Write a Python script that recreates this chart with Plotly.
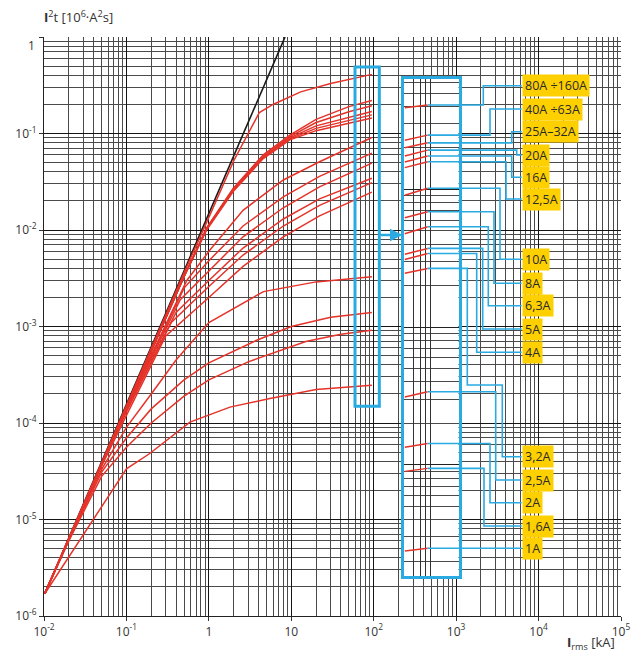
import math
import plotly.graph_objects as go

# ---------------- data (x: Irms in kA, y: I2t in 10^6 A2s) ----------------
prospective_x = [0.0102, 8.4]
prospective_y = [1.7e-6, 1.0]

ratings = ["80A ÷160A", "40A ÷63A", "25A–32A", "20A", "16A", "12,5A", "10A", "8A",
           "6,3A", "5A", "4A", "3,2A", "2,5A", "2A", "1,6A", "1A"]

x_80_160 = [0.0102, 0.02, 0.05, 0.1, 0.5, 1, 2, 3, 4.1, 6, 8, 13, 30, 95]
y_80_160 = [1.7e-6, 6.4e-6, 3.8e-5, 1.5e-4, 3.6e-3, 1.35e-2, 5.2e-2, 0.1, 0.165, 0.2, 0.225, 0.27, 0.33, 0.41]
x_40_63 = [0.0102, 0.02, 0.05, 0.1, 0.5, 0.94, 1.97, 4.57, 9.6, 20, 50, 95]
y_40_63 = [1.7e-6, 6.3e-6, 3.7e-5, 1.45e-4, 3.3e-3, 1.05e-2, 2.7e-2, 6.0e-2, 9.6e-2, 0.14, 0.19, 0.22]
x_25_32 = [0.0102, 0.02, 0.05, 0.1, 0.5, 0.94, 1.97, 4.57, 9.6, 20, 50, 95]
y_25_32 = [1.7e-6, 6.3e-6, 3.7e-5, 1.45e-4, 3.3e-3, 1.04e-2, 2.65e-2, 5.85e-2, 9.3e-2, 0.13, 0.168, 0.194]
x_20 = [0.0102, 0.02, 0.05, 0.1, 0.5, 0.94, 1.97, 4.57, 9.6, 20, 50, 95]
y_20 = [1.7e-6, 6.3e-6, 3.7e-5, 1.45e-4, 3.3e-3, 1.03e-2, 2.6e-2, 5.75e-2, 9.0e-2, 0.12, 0.148, 0.169]
x_16 = [0.0102, 0.02, 0.05, 0.1, 0.5, 0.94, 1.97, 4.57, 9.6, 20, 50, 95]
y_16 = [1.7e-6, 6.3e-6, 3.7e-5, 1.45e-4, 3.3e-3, 1.02e-2, 2.55e-2, 5.6e-2, 8.8e-2, 0.113, 0.138, 0.156]
x_12_5 = [0.0102, 0.02, 0.05, 0.1, 0.5, 0.94, 1.97, 4.57, 9.6, 20, 50, 95]
y_12_5 = [1.7e-6, 6.3e-6, 3.7e-5, 1.45e-4, 3.3e-3, 1.0e-2, 2.5e-2, 5.5e-2, 8.6e-2, 0.107, 0.128, 0.145]
x_10 = [0.0102, 0.02, 0.05, 0.1, 0.54, 1.03, 2.6, 8, 22, 95]
y_10 = [1.7e-6, 6.3e-6, 3.7e-5, 1.45e-4, 3.0e-3, 6.2e-3, 1.6e-2, 3.3e-2, 5.1e-2, 9.08e-2]
x_8 = [0.0102, 0.02, 0.05, 0.1, 0.5, 1, 2.6, 8, 22, 95]
y_8 = [1.7e-6, 6.3e-6, 3.7e-5, 1.42e-4, 2.5e-3, 4.8e-3, 1.1e-2, 2.2e-2, 3.6e-2, 6.26e-2]
x_6_3 = [0.0102, 0.02, 0.05, 0.1, 0.45, 1, 2.6, 8, 22, 95]
y_6_3 = [1.7e-6, 6.3e-6, 3.7e-5, 1.4e-4, 1.9e-3, 3.8e-3, 8.5e-3, 1.7e-2, 2.8e-2, 4.93e-2]
x_5 = [0.0102, 0.02, 0.05, 0.1, 0.4, 1, 2.6, 8, 22, 95]
y_5 = [1.7e-6, 6.3e-6, 3.7e-5, 1.35e-4, 1.4e-3, 3.0e-3, 6.5e-3, 1.3e-2, 2.1e-2, 3.44e-2]
x_4 = [0.0102, 0.02, 0.05, 0.1, 0.35, 1, 2.6, 8, 22, 95]
y_4 = [1.7e-6, 6.3e-6, 3.7e-5, 1.3e-4, 1.1e-3, 2.6e-3, 5.5e-3, 1.1e-2, 1.8e-2, 3.1e-2]
x_3_2 = [0.0102, 0.02, 0.05, 0.1, 0.3, 1, 2.6, 8, 22, 95]
y_3_2 = [1.7e-6, 6.3e-6, 3.6e-5, 1.2e-4, 8e-4, 2e-3, 4.2e-3, 8.5e-3, 1.4e-2, 2.47e-2]
x_2_5 = [0.0102, 0.02, 0.05, 0.1, 0.2, 0.4, 1, 4.6, 20, 95]
y_2_5 = [1.7e-6, 6.2e-6, 3.3e-5, 9e-5, 2e-4, 4.5e-4, 1.1e-3, 2.3e-3, 2.9e-3, 3.27e-3]
x_2 = [0.0102, 0.02, 0.05, 0.1, 0.2, 0.5, 1, 3.8, 10, 30, 95]
y_2 = [1.7e-6, 6.1e-6, 3.1e-5, 7e-5, 1.4e-4, 2.8e-4, 4.2e-4, 7.2e-4, 1e-3, 1.25e-3, 1.4e-3]
x_1_6 = [0.0102, 0.02, 0.05, 0.1, 0.2, 0.5, 1, 3, 15, 40, 95]
y_1_6 = [1.7e-6, 6e-6, 2.8e-5, 5.6e-5, 1.0e-4, 1.9e-4, 2.8e-4, 4.3e-4, 7e-4, 8.3e-4, 9.16e-4]
x_1 = [0.0102, 0.1, 0.19, 0.59, 1.8, 5.5, 20, 95]
y_1 = [1.7e-6, 3.35e-5, 4.8e-5, 1.02e-4, 1.46e-4, 1.79e-4, 2.22e-4, 2.46e-4]

curves_x = [x_80_160, x_40_63, x_25_32, x_20, x_16, x_12_5, x_10, x_8, x_6_3, x_5, x_4, x_3_2, x_2_5, x_2, x_1_6, x_1]
curves_y = [y_80_160, y_40_63, y_25_32, y_20, y_16, y_12_5, y_10, y_8, y_6_3, y_5, y_4, y_3_2, y_2_5, y_2, y_1_6, y_1]

# magnified view of the curve ends (inset)
inset_x = [50, 95]
inset_left = [0.392, 0.228, 0.2005, 0.1747, 0.158, 0.144, 0.0907, 0.0624, 0.0477, 0.0338,
              0.0310, 0.0246, 0.00311, 0.00134, 0.000897, 0.000237]
inset_right = [0.41, 0.248, 0.218, 0.193, 0.175, 0.159, 0.102, 0.0689, 0.0536, 0.0373,
               0.0343, 0.0267, 0.0034, 0.00143, 0.000943, 0.000248]

x_tick_vals = [1e-2, 1e-1, 1, 10, 1e2, 1e3, 1e4, 1e5]
x_tick_text = ["10<sup>-2</sup>", "10<sup>-1</sup>", "1", "10", "10<sup>2</sup>",
               "10<sup>3</sup>", "10<sup>4</sup>", "10<sup>5</sup>"]
y_tick_vals = [1e-6, 1e-5, 1e-4, 1e-3, 1e-2, 1e-1, 1]
y_tick_text = ["10<sup>-6</sup>", "10<sup>-5</sup>", "10<sup>-4</sup>", "10<sup>-3</sup>",
               "10<sup>-2</sup>", "10<sup>-1</sup>", "1"]

# ---------------- styling / layout ----------------
# the page puts the figure 8 px in from the window edge, so work in window pixels
PAGE = 8
W, H = 642 - 2 * PAGE, 664 - 2 * PAGE
PL, PR, PT, PB = 44, 621, 37, 616          # plot area in window pixels
PW, PH = PR - PL, PB - PT
ML, MT = PL - PAGE, PT - PAGE
MR, MB = W - ML - PW, H - MT - PH
RED = "#E5332A"
BLUE = "#29ABE2"
YELLOW = "#FFD000"
TXT = "#333333"
FONT = "Open Sans"


def px(xp):
    return (xp - PL) / PW


def py(yp):
    return (PB - yp) / PH


def minors(lo, hi):
    return [k * 10 ** d for d in range(lo, hi) for k in range(2, 10)]


fig = go.Figure()
fig.add_trace(go.Scatter(x=prospective_x, y=prospective_y, mode="lines",
                         line=dict(color="#1a1a1a", width=1.6), hoverinfo="skip", showlegend=False))
for xs, ys in zip(curves_x, curves_y):
    fig.add_trace(go.Scatter(x=xs, y=ys, mode="lines", line=dict(color=RED, width=1.5),
                             hoverinfo="skip", showlegend=False))
for yl, yr in zip(inset_left, inset_right):
    fig.add_trace(go.Scatter(x=inset_x, y=[yl, yr], mode="lines", line=dict(color=RED, width=1.5),
                             xaxis="x2", yaxis="y2", hoverinfo="skip", showlegend=False))

# inset geometry (window pixels)
IN_L, IN_R, IN_T, IN_B = 403.5, 458.5, 79, 576
IN_YR = [-3.807, -0.198]
IN_XR = [1.684, 2.352]
ix0, ix1 = px(IN_L), px(IN_R)
iy0, iy1 = py(IN_B), py(IN_T)


def inset_y_paper(v):
    return iy0 + (math.log10(v) - IN_YR[0]) / (IN_YR[1] - IN_YR[0]) * (iy1 - iy0)


def inset_x_px(v):
    return IN_L + (math.log10(v) - IN_XR[0]) / (IN_XR[1] - IN_XR[0]) * (IN_R - IN_L)


axfont = dict(family=FONT, size=12, color=TXT)
GRID_MAJOR = "#141414"
GRID_MINOR = "#4a4a4a"
# the top "1" label sits a little below its gridline in the reference: drawn as annotation
y_tick_text_axis = y_tick_text[:-1] + [""]
layout = dict(
    width=W, height=H, margin=dict(l=ML, r=MR, t=MT, b=MB, autoexpand=False),
    paper_bgcolor="white", plot_bgcolor="white", showlegend=False,
    font=dict(family=FONT, color=TXT),
    xaxis=dict(type="log", range=[-2, 5], domain=[0, 1], tickmode="array", tickvals=x_tick_vals,
               ticktext=x_tick_text, tickfont=axfont, ticks="outside", ticklen=4, tickcolor="#333",
               showgrid=True, gridcolor=GRID_MAJOR, gridwidth=1.2, zeroline=False,
               showline=True, linecolor="#222", linewidth=1.2,
               minor=dict(tickmode="array", tickvals=minors(-2, 5), showgrid=True,
                          gridcolor=GRID_MINOR, gridwidth=1.1, ticks="")),
    yaxis=dict(type="log", range=[-6, 0], domain=[0, 1], tickmode="array", tickvals=y_tick_vals,
               ticktext=y_tick_text_axis, tickfont=axfont, ticks="outside", ticklen=4, tickcolor="#333",
               showgrid=True, gridcolor=GRID_MAJOR, gridwidth=1.2, zeroline=False,
               showline=True, linecolor="#222", linewidth=1.2,
               minor=dict(tickmode="array", tickvals=minors(-6, 0), showgrid=True,
                          gridcolor=GRID_MINOR, gridwidth=1.1, ticks="")),
    xaxis2=dict(type="log", range=IN_XR, domain=[ix0, ix1], anchor="y2", showticklabels=False,
                ticks="", tickmode="array", tickvals=[63, 77, 89, 104], showgrid=True,
                gridcolor="#333", gridwidth=1, zeroline=False, showline=True, mirror=True,
                linecolor=BLUE, linewidth=3),
    yaxis2=dict(type="log", range=IN_YR, domain=[iy0, iy1], anchor="x2", showticklabels=False,
                ticks="", tickmode="array", tickvals=[1e-3, 1e-2, 1e-1], showgrid=True,
                gridcolor="#222", gridwidth=1, zeroline=False, showline=True, mirror=True,
                linecolor=BLUE, linewidth=3,
                minor=dict(tickmode="array", tickvals=minors(-4, 0), showgrid=True,
                           gridcolor="#4a4a4a", gridwidth=1, ticks="")),
)

shapes = []
# highlighted region of the curve ends on the main chart
ZOOM_BOX = dict(x0=59.3, x1=117, y0=1.49e-4, y1=0.489)
shapes.append(dict(type="rect", xref="x", yref="y", x0=ZOOM_BOX["x0"], x1=ZOOM_BOX["x1"],
                   y0=ZOOM_BOX["y0"], y1=ZOOM_BOX["y1"], line=dict(color=BLUE, width=3),
                   fillcolor="rgba(0,0,0,0)"))

# labels & leader lines (window pixels)
label_py = [85.7, 109, 131.7, 155, 177.3, 199, 259.3, 283.3, 305.7, 329, 352.3,
            456.7, 480, 502.7, 526, 548.3]
leader_col = [483.3, 490, 511.7, 516.7, 511.7, 506, 500, 494, 488.3, 482.7, 476.7,
              467.3, 495.7, 490, 484, None]
LABEL_X = 521.7
seg_end_px = inset_x_px(inset_x[1])
annotations = []
for i, name in enumerate(ratings):
    ys = inset_y_paper(inset_right[i])
    yl = py(label_py[i])
    xs = px(seg_end_px)
    xe = px(LABEL_X)
    col = leader_col[i]
    if col is None:
        path = f"M{xs},{ys} L{xe},{ys}"
    elif name == "3,2A":
        mid = py(385)
        c2 = px(502.3)
        path = f"M{xs},{ys} L{px(col)},{ys} L{px(col)},{mid} L{c2},{mid} L{c2},{yl} L{xe},{yl}"
    else:
        path = f"M{xs},{ys} L{px(col)},{ys} L{px(col)},{yl} L{xe},{yl}"
    shapes.append(dict(type="path", xref="paper", yref="paper", path=path,
                       line=dict(color=BLUE, width=1.6)))
    annotations.append(dict(xref="paper", yref="paper", x=xe, y=yl, xanchor="left", yanchor="middle",
                            text=name, showarrow=False, bgcolor=YELLOW, borderpad=2,
                            font=dict(family=FONT, size=12.5, color="#2a2a2a")))

# top y tick label
annotations.append(dict(xref="paper", yref="paper", x=px(37), y=py(45.5), xanchor="right",
                        yanchor="middle", showarrow=False, text=y_tick_text[-1], font=axfont))
# arrow from the highlighted region to the inset
annotations.append(dict(xref="paper", yref="paper", x=px(IN_L - 1), y=py(235), ax=-23, ay=0,
                        text="", showarrow=True, arrowhead=2, arrowsize=1, arrowwidth=2.5,
                        arrowcolor=BLUE, standoff=0))
# axis titles
annotations.append(dict(xref="paper", yref="paper", x=px(42), y=py(16.5), xanchor="left",
                        yanchor="middle", showarrow=False,
                        text="<b>I</b><sup>2</sup>t [10<sup>6</sup>·A<sup>2</sup>s]",
                        font=dict(family=FONT, size=13, color=TXT)))
annotations.append(dict(xref="paper", yref="paper", x=px(617), y=py(643), xanchor="right",
                        yanchor="middle", showarrow=False,
                        text="<b>I</b><sub>rms</sub> [kA]",
                        font=dict(family=FONT, size=13, color=TXT)))

fig.update_layout(**layout, shapes=shapes, annotations=annotations)
fig.write_html("out.html")
